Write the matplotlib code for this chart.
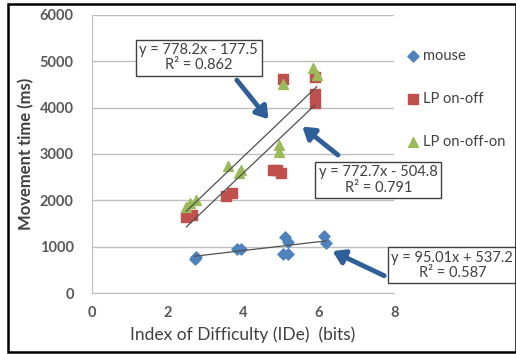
import matplotlib as mpl
import matplotlib.pyplot as plt
from matplotlib.patches import Rectangle
import numpy as np

mpl.rcParams['font.family'] = 'Lato'

# data
mouse_x = [2.72, 2.75, 3.85, 3.95, 5.05, 5.2, 5.12, 5.18, 6.15, 6.2]
mouse_y = [740, 770, 960, 950, 850, 850, 1200, 1100, 1240, 1080]

onoff_x = [2.5, 2.65, 3.55, 3.7, 4.8, 4.9, 5.0, 5.05, 5.9, 5.9, 5.9]
onoff_y = [1650, 1680, 2100, 2150, 2650, 2650, 2600, 4620, 4650, 4300, 4100]

onoffon_x = [2.5, 2.6, 2.75, 3.6, 3.9, 3.95, 4.95, 4.95, 5.05, 5.85, 5.95]
onoffon_y = [1850, 1950, 2000, 2750, 2600, 2650, 3200, 3050, 4500, 4850, 4700]

# trendline coefficients as printed on the chart
fits = {
    'mouse': (95.01, 537.2, 0.587),
    'onoff': (772.7, -504.8, 0.791),
    'onoffon': (778.2, -177.5, 0.862),
}

blue = '#4F81BD'
red = '#C0504D'
green = '#9BBB59'
arrow_c = '#2F5F98'
txt_c = '#595959'

fig = plt.figure(figsize=(5.16, 3.54), dpi=100)
ax = fig.add_axes([0.178, 0.172, 0.586, 0.786])

ax.scatter(mouse_x, mouse_y, marker='D', s=32, color=blue, label='mouse', zorder=3)
ax.scatter(onoff_x, onoff_y, marker='s', s=45, color=red, label='LP on-off', zorder=3)
ax.scatter(onoffon_x, onoffon_y, marker='^', s=50, color=green, label='LP on-off-on', zorder=3)

for key, xs in [('mouse', mouse_x), ('onoff', onoff_x), ('onoffon', onoffon_x)]:
    a, b, _ = fits[key]
    xx = np.array([min(xs), max(xs)])
    ax.plot(xx, a * xx + b, color='#505050', lw=0.9, zorder=4)

ax.set_xlim(0, 8)
ax.set_ylim(0, 6000)
ax.set_xticks([0, 2, 4, 6, 8])
ax.set_yticks(range(0, 6001, 1000))
ax.yaxis.grid(True, color='#BFBFBF', lw=1)
ax.set_axisbelow(True)
for s in ['top', 'right']:
    ax.spines[s].set_visible(False)
for s in ['left', 'bottom']:
    ax.spines[s].set_color('#BFBFBF')
ax.tick_params(length=0, labelsize=10.5, labelcolor=txt_c)
ax.tick_params(axis='y', pad=13)
ax.tick_params(axis='x', pad=9)
for lab in ax.get_xticklabels() + ax.get_yticklabels():
    lab.set_fontweight('bold')

ax.set_xlabel('Index of Difficulty (IDe)  (bits)', fontsize=12.5, color='#404040', labelpad=5)
ax.set_ylabel('Movement time (ms)', fontsize=12, color='#404040', fontweight='bold', labelpad=4)

leg = ax.legend(loc='upper left', bbox_to_anchor=(0.99, 0.925), frameon=False,
                labelspacing=2.0, handletextpad=0.05, handlelength=1.2, fontsize=10.5)
for t in leg.get_texts():
    t.set_color('#404040')

box = dict(boxstyle='square,pad=0.25', fc='white', ec='#404040', lw=1)


def eq_text(key):
    a, b, r2 = fits[key]
    sign = '-' if b < 0 else '+'
    return f'y = {a:g}x {sign} {abs(b):g}\nR\u00b2 = {r2:.3f}'


arrow = dict(arrowstyle='-|>,head_width=0.45,head_length=0.7', lw=3.5, color=arrow_c)
ax.annotate('', xy=(4.72, 3700), xytext=(3.79, 4640), arrowprops=arrow)
ax.annotate('', xy=(5.51, 3630), xytext=(6.57, 2940), arrowprops=arrow)
ax.annotate('', xy=(6.3, 930), xytext=(7.8, 350), annotation_clip=False, arrowprops=arrow)

ax.text(2.83, 5075, eq_text('onoffon'), ha='center', va='center', fontsize=10.5,
        color='#404040', bbox=box, linespacing=1.1, zorder=5)
ax.text(7.58, 2440, eq_text('onoff'), ha='center', va='center', fontsize=10.5,
        color='#404040', bbox=box, linespacing=1.1, zorder=5)
ax.text(9.54, 600, eq_text('mouse'), ha='center', va='center', fontsize=10.5,
        color='#404040', bbox=box, linespacing=1.1, zorder=5, clip_on=False)

fig.patches.append(Rectangle((0.015, 0.006), 0.985, 0.983, transform=fig.transFigure,
                             fill=False, ec='black', lw=1.8))

fig.savefig('out.png', dpi=100)
